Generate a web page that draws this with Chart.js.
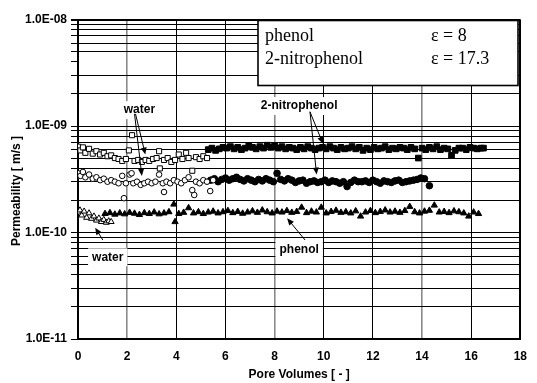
<!DOCTYPE html>
<html><head><meta charset="utf-8">
<script src="https://cdn.jsdelivr.net/npm/chart.js@4.4.0/dist/chart.umd.min.js"></script>
<style>html,body{margin:0;padding:0;background:#fff}canvas{display:block}</style>
</head><body>
<canvas id="c" width="537" height="383"></canvas>
<script>
// ---- data (permeability values in units of 1e-10 m/s) ----
const UNIT = 1e-10;
const waterSquaresX = [0,0.1,0.2,0.3,0.45,0.6,0.75,0.9,1.05,1.2,1.35,1.5,1.65,1.8,1.95,2.07,2.2,2.3,2.45,2.6,2.75,2.9,3.05,3.2,3.3,3.33,3.5,3.65,3.8,3.95,4.1,4.25,4.4,4.5,4.65,4.8,4.95,5.1,5.25];
const waterSquaresY = [6.4,5.9,6.3,5.6,6.1,5.5,5.8,5.4,5.6,5.2,5.3,5.0,4.9,4.7,4.9,5.9,8.2,4.7,4.8,4.6,4.8,4.7,4.9,5.0,5.8,4.0,4.8,5.0,4.6,4.8,5.4,4.9,5.6,5.0,3.8,5.1,4.9,5.2,5.0];

const nitroSquaresX = [5.3,5.45,5.6,5.75,5.9,6.05,6.2,6.35,6.5,6.65,6.8,6.95,7.1,7.25,7.4,7.55,7.7,7.85,8.0,8.15,8.3,8.45,8.6,8.75,8.9,9.05,9.2,9.35,9.5,9.65,9.8,9.95,10.1,10.25,10.4,10.55,10.7,10.85,11.0,11.15,11.3,11.45,11.6,11.75,11.9,12.05,12.2,12.35,12.5,12.65,12.8,12.95,13.1,13.25,13.4,13.55,13.7,13.85,14.0,14.15,14.3,14.45,14.6,14.75,14.9,15.05,15.2,15.35,15.5,15.65,15.8,15.95,16.1,16.25,16.4,16.5];
const nitroSquaresY = [6.0,6.2,5.9,6.1,6.3,6.2,6.4,6.1,6.3,6.0,6.2,6.5,6.3,6.1,6.4,6.2,6.6,6.3,6.5,6.2,6.4,6.1,6.3,6.2,6.0,6.3,6.1,6.4,6.2,6.0,6.2,6.3,6.1,6.4,6.2,6.0,6.3,6.1,6.2,6.4,6.1,6.3,5.9,6.2,6.0,6.3,6.1,6.2,6.4,6.0,6.2,6.1,6.3,6.2,6.0,6.3,6.1,5.0,6.2,6.0,6.3,6.1,6.4,6.0,6.2,6.1,5.3,5.9,6.2,6.2,6.0,6.3,6.2,6.1,6.2,6.2];

const waterCirclesX = [0,0.1,0.2,0.3,0.45,0.6,0.75,0.9,1.05,1.2,1.35,1.5,1.65,1.8,1.87,1.95,2.1,2.18,2.25,2.4,2.55,2.7,2.85,3.0,3.15,3.3,3.45,3.5,3.6,3.75,3.9,4.05,4.2,4.35,4.5,4.65,4.73,4.8,4.95,5.1,5.25,5.38,5.5];
const waterCirclesY = [3.6,3.4,3.7,3.3,3.5,3.2,3.3,3.1,3.2,3.0,3.1,3.0,2.9,3.4,2.1,2.9,3.5,3.6,2.9,3.0,2.8,2.9,3.0,2.9,3.0,3.5,2.9,2.4,3.0,2.9,3.1,3.0,2.9,3.1,3.3,2.5,2.25,3.0,2.9,3.1,3.0,2.45,3.1];

const nitroCirclesX = [5.4,5.55,5.7,5.85,6.0,6.15,6.3,6.45,6.6,6.75,6.9,7.05,7.2,7.35,7.5,7.65,7.8,7.95,8.1,8.25,8.4,8.55,8.7,8.85,9.0,9.15,9.3,9.45,9.6,9.75,9.9,10.05,10.2,10.35,10.5,10.65,10.8,10.95,11.1,11.25,11.4,11.55,11.7,11.85,12.0,12.15,12.3,12.45,12.6,12.75,12.9,13.05,13.2,13.35,13.5,13.65,13.8,13.95,14.1,14.3];
const nitroCirclesY = [3.1,3.2,3.0,3.15,3.25,3.1,3.2,3.3,3.15,3.05,3.2,3.1,3.0,3.15,3.05,3.2,3.1,3.0,3.6,3.15,3.05,3.2,3.1,2.95,3.05,3.1,2.9,3.0,3.05,2.95,3.0,3.1,2.95,3.05,3.0,2.9,3.0,2.7,2.95,3.1,3.0,3.0,3.05,2.95,3.1,3.0,2.9,3.05,3.0,2.95,3.05,3.1,2.95,3.0,3.05,3.1,3.15,3.25,3.2,2.75];

const waterTrianglesX = [0,0.08,0.15,0.25,0.35,0.45,0.55,0.65,0.75,0.85,0.95,1.05,1.15,1.25,1.35];
const waterTrianglesY = [1.55,1.62,1.45,1.58,1.38,1.52,1.35,1.42,1.3,1.36,1.26,1.32,1.24,1.28,1.26];

const phenolTrianglesX = [1.1,1.3,1.5,1.7,1.9,2.1,2.3,2.5,2.7,2.9,3.1,3.3,3.5,3.7,3.9,3.95,4.1,4.3,4.5,4.7,4.9,5.1,5.3,5.5,5.7,5.9,6.1,6.3,6.5,6.7,6.9,7.1,7.3,7.5,7.7,7.9,8.1,8.3,8.5,8.7,8.9,9.1,9.3,9.5,9.7,9.9,10.1,10.3,10.5,10.7,10.9,11.1,11.3,11.5,11.7,11.9,12.1,12.3,12.5,12.7,12.9,13.1,13.3,13.5,13.7,13.9,14.1,14.3,14.5,14.7,14.9,15.1,15.3,15.5,15.7,15.9,16.1,16.3];
const phenolTrianglesY = [1.50,1.53,1.48,1.52,1.49,1.54,1.51,1.47,1.53,1.50,1.55,1.49,1.52,1.56,1.84,1.26,1.50,1.54,1.70,1.52,1.56,1.50,1.55,1.58,1.52,1.56,1.60,1.53,1.57,1.51,1.55,1.59,1.54,1.62,1.56,1.52,1.58,1.55,1.60,1.54,1.57,1.72,1.53,1.58,1.55,1.72,1.52,1.57,1.61,1.54,1.56,1.52,1.59,1.42,1.55,1.60,1.53,1.57,1.62,1.55,1.58,1.54,1.60,1.75,1.56,1.52,1.58,1.61,1.80,1.55,1.57,1.53,1.59,1.56,1.52,1.42,1.55,1.50];

// ---- axes ----
const yDecadeTicks = [1e-11, 1e-10, 1e-9, 1e-8];
const yTickLabels = ['1.0E-11', '1.0E-10', '1.0E-09', '1.0E-08'];
const yMinorMantissas = [2, 3, 4, 5, 6, 7, 8, 9];
const xMin = 0, xMax = 18, xStep = 2;

// ---- text box & annotations ----
const boxNames = ['phenol', '2-nitrophenol'];
const boxEps = ['\u03b5 = 8', '\u03b5 = 17.3'];
const annotations = [
  {text: 'water', x: 2.5, y: 1.41e-9, arrows: [[2.34, 1.30e-9, 2.74, 5.4e-10], [2.30, 1.30e-9, 2.6, 3.4e-10]]},
  {text: '2-nitrophenol', x: 9.0, y: 1.54e-9, arrows: [[9.44, 1.36e-9, 9.97, 6.8e-10], [9.44, 1.36e-9, 9.71, 3.5e-10]]},
  {text: 'water', x: 1.21, y: 5.85e-11, arrows: [[1.01, 8.5e-11, 0.70, 1.11e-10]]},
  {text: 'phenol', x: 9.0, y: 6.95e-11, arrows: [[9.24, 8.5e-11, 8.51, 1.36e-10]]}
];

function pts(xs, ys) { return xs.map((v, i) => ({x: v, y: ys[i] * UNIT})); }

const yAllTicks = [];
yDecadeTicks.forEach((d, i) => {
  yAllTicks.push(d);
  if (i < yDecadeTicks.length - 1) yMinorMantissas.forEach(m => yAllTicks.push(m * d));
});

const FONT = '"Liberation Sans", Arial, sans-serif';

function arrow(ctx, x1, y1, x2, y2) {
  const ang = Math.atan2(y2 - y1, x2 - x1);
  const L = 7, W = 3;
  ctx.beginPath();
  ctx.moveTo(x1, y1);
  ctx.lineTo(x2 - Math.cos(ang) * L * 0.8, y2 - Math.sin(ang) * L * 0.8);
  ctx.stroke();
  ctx.beginPath();
  ctx.moveTo(x2, y2);
  ctx.lineTo(x2 - Math.cos(ang) * L - Math.sin(ang) * W, y2 - Math.sin(ang) * L + Math.cos(ang) * W);
  ctx.lineTo(x2 - Math.cos(ang) * L + Math.sin(ang) * W, y2 - Math.sin(ang) * L - Math.cos(ang) * W);
  ctx.closePath();
  ctx.fill();
}

const overlay = {
  id: 'overlay',
  afterDatasetsDraw(chart) {
    const {ctx, scales: {x, y}} = chart;
    ctx.save();
    ctx.font = 'bold 12px ' + FONT;
    ctx.textAlign = 'center';
    ctx.textBaseline = 'middle';
    annotations.forEach(a => {
      const px = x.getPixelForValue(a.x), py = y.getPixelForValue(a.y);
      const w = ctx.measureText(a.text).width;
      ctx.fillStyle = '#fff';
      ctx.fillRect(px - w / 2 - 4, py - 9, w + 8, 18);
      ctx.fillStyle = '#000';
      ctx.fillText(a.text, px, py);
      ctx.strokeStyle = '#000';
      ctx.lineWidth = 1;
      a.arrows.forEach(r => arrow(ctx, x.getPixelForValue(r[0]), y.getPixelForValue(r[1]), x.getPixelForValue(r[2]), y.getPixelForValue(r[3])));
    });
    const bx = 258, by = 20.5, bw = 260, bh = 65;
    ctx.fillStyle = '#fff';
    ctx.fillRect(bx, by, bw, bh);
    ctx.strokeStyle = '#000';
    ctx.lineWidth = 1.6;
    ctx.strokeRect(bx, by, bw, bh);
    ctx.fillStyle = '#000';
    ctx.font = '18px "Liberation Serif", "Times New Roman", serif';
    ctx.textAlign = 'left';
    ctx.textBaseline = 'alphabetic';
    boxNames.forEach((n, i) => {
      ctx.fillText(n, bx + 7, by + 20.5 + i * 22.5);
      ctx.fillText(boxEps[i], bx + 173, by + 20.5 + i * 22.5);
    });
    ctx.font = 'bold 12px ' + FONT;
    ctx.textAlign = 'center';
    ctx.textBaseline = 'middle';
    ctx.translate(17, 191);
    ctx.rotate(-Math.PI / 2);
    ctx.fillText('Permeability [ m/s ]', 0, 0);
    ctx.restore();
  }
};

const base = {showLine: false, borderWidth: 1, borderColor: '#000'};
new Chart(document.getElementById('c'), {
  type: 'scatter',
  data: {
    datasets: [
      {...base, label: 'water (squares)', data: pts(waterSquaresX, waterSquaresY), pointStyle: 'rect', pointRadius: 3.6, backgroundColor: '#fff'},
      {...base, label: '2-nitrophenol (squares)', data: pts(nitroSquaresX, nitroSquaresY), pointStyle: 'rect', pointRadius: 4, backgroundColor: '#000'},
      {...base, label: 'water (circles)', data: pts(waterCirclesX, waterCirclesY), pointStyle: 'circle', pointRadius: 2.8, backgroundColor: '#fff'},
      {...base, label: '2-nitrophenol (circles)', data: pts(nitroCirclesX, nitroCirclesY), pointStyle: 'circle', pointRadius: 3.3, backgroundColor: '#000'},
      {...base, label: 'water (triangles)', data: pts(waterTrianglesX, waterTrianglesY), pointStyle: 'triangle', pointRadius: 3.4, backgroundColor: '#fff'},
      {...base, label: 'phenol', data: pts(phenolTrianglesX, phenolTrianglesY), pointStyle: 'triangle', pointRadius: 3.6, backgroundColor: '#000'}
    ]
  },
  options: {
    responsive: false,
    devicePixelRatio: 1,
    animation: false,
    events: [],
    layout: {padding: {top: 19.5, right: 7, left: 0, bottom: 0}},
    plugins: {legend: {display: false}, tooltip: {enabled: false}},
    scales: {
      x: {
        type: 'linear', min: xMin, max: xMax,
        afterFit: s => { s.height = 44; },
        ticks: {stepSize: xStep, color: '#000', font: {family: FONT, size: 12, weight: 'bold'}, padding: 10, maxRotation: 0},
        grid: {
          drawTicks: false,
          color: c => ([2, 8, 14].includes(c.tick && c.tick.value) ? '#8a8a8a' : '#000'),
          lineWidth: c => (c.tick && c.tick.value === xMax ? 2 : ([2, 8, 14].includes(c.tick && c.tick.value) ? 1.6 : 1))
        },
        border: {color: '#000', width: 2},
        title: {display: true, text: 'Pore Volumes [ - ]', color: '#000', font: {family: FONT, size: 12, weight: 'bold'}, padding: {top: 0, bottom: 1}}
      },
      y: {
        type: 'logarithmic', min: yDecadeTicks[0], max: yDecadeTicks[yDecadeTicks.length - 1],
        afterFit: s => { s.width = 78; },
        afterBuildTicks: s => { s.ticks = yAllTicks.map(v => ({value: v})); },
        ticks: {
          autoSkip: false, color: '#000', padding: 4,
          font: {family: FONT, size: 12, weight: 'bold'},
          callback: v => { const i = yDecadeTicks.findIndex(d => Math.abs(d - v) / d < 1e-6); return i >= 0 ? yTickLabels[i] : ''; }
        },
        grid: {
          tickLength: 7, tickColor: '#000',
          color: c => (c.tick && Math.abs(c.tick.value - 4e-9) < 1e-12 ? 'rgba(0,0,0,0)' : '#000'),
          lineWidth: c => (c.tick && Math.abs(c.tick.value - 1e-8) < 1e-12 ? 2 : 1)
        },
        border: {color: '#000', width: 2}
      }
    }
  },
  plugins: [overlay]
});
</script>
</body></html>
